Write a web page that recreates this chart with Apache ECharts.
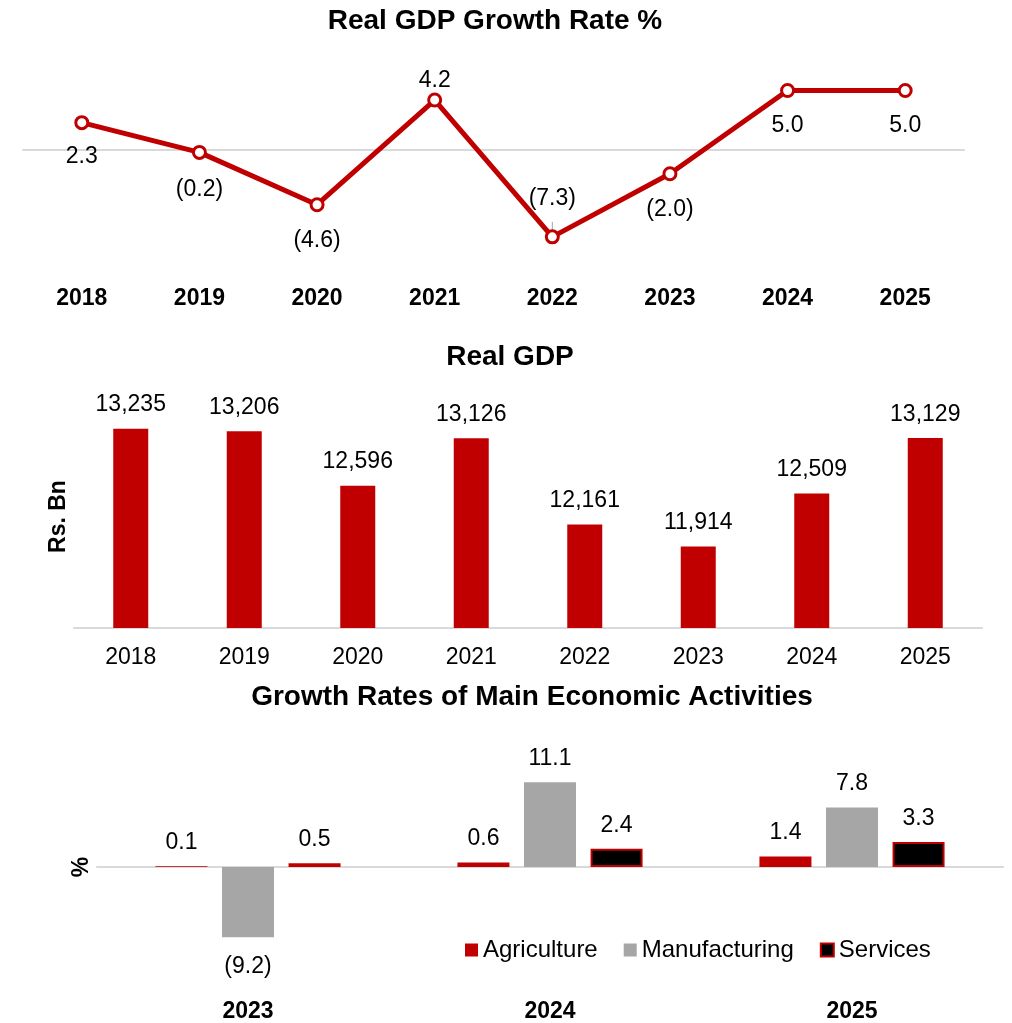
<!DOCTYPE html>
<html>
<head>
<meta charset="utf-8">
<script src="https://cdn.jsdelivr.net/npm/echarts@6/dist/echarts.min.js"></script>
<style>html,body{margin:0;padding:0;background:#fff}#c{width:1012px;height:1023px}</style>
</head>
<body>
<div id="c"></div>
<script>
// ---- data ----
const years = ['2018', '2019', '2020', '2021', '2022', '2023', '2024', '2025'];
const growthRate = [2.3, -0.2, -4.6, 4.2, -7.3, -2.0, 5.0, 5.0];
const realGdp = [13235, 13206, 12596, 13126, 12161, 11914, 12509, 13129];
const activityYears = ['2023', '2024', '2025'];
const agriculture = [0.1, 0.6, 1.4];
const manufacturing = [-9.2, 11.1, 7.8];
const services = [0.5, 2.4, 3.3];

// ---- styles ----
const RED = '#c00000', GREY = '#a6a6a6', LINE = '#d9d9d9';
const FONT = '"Liberation Sans", Arial, sans-serif';
const growthLabelPos = ['bottom', 'bottom', 'bottom', 'top', 'top', 'bottom', 'bottom', 'bottom'];
const growthLabelDist = [15, 18, 17, 0, 19, 17, 16, 16];

function paren(v, d) {
  const s = Math.abs(v).toFixed(d);
  return v < 0 ? '(' + s + ')' : s;
}

const chart = echarts.init(document.getElementById('c'), null, {renderer: 'canvas'});
const lbl = {fontFamily: FONT, fontSize: 23, color: '#000'};

const option = {
  animation: false,
  textStyle: {fontFamily: FONT},
  graphic: [
    {type: 'text', x: 495, y: 21, style: {text: 'Real GDP Growth Rate %', font: 'bold 28px ' + FONT, fill: '#000', textAlign: 'center', textVerticalAlign: 'middle'}},
    {type: 'text', x: 510, y: 357, style: {text: 'Real GDP', font: 'bold 28px ' + FONT, fill: '#000', textAlign: 'center', textVerticalAlign: 'middle'}},
    {type: 'text', x: 532, y: 697, style: {text: 'Growth Rates of Main Economic Activities', font: 'bold 28px ' + FONT, fill: '#000', textAlign: 'center', textVerticalAlign: 'middle'}}
  ],
  legend: {
    data: ['Agriculture', 'Manufacturing', 'Services'],
    left: 460, top: 933,
    icon: 'rect', itemWidth: 13, itemHeight: 13, itemGap: 26,
    textStyle: {fontFamily: FONT, fontSize: 24, color: '#000'}
  },
  grid: [
    {left: 23, width: 941, top: 78.6, height: 166.6},
    {left: 74, width: 908, top: 405, height: 223},
    {left: 97, width: 906, top: 760.2, height: 215.6}
  ],
  xAxis: [
    {gridIndex: 0, type: 'category', data: years, axisLine: {onZero: true, lineStyle: {color: LINE, width: 2}}, axisTick: {show: false}, axisLabel: {show: false}},
    {gridIndex: 0, type: 'category', data: years, position: 'bottom', axisLine: {show: false, onZero: false}, axisTick: {show: false},
      axisLabel: {fontFamily: FONT, fontSize: 23, fontWeight: 'bold', color: '#000', margin: 42}},
    {gridIndex: 1, type: 'category', data: years, axisLine: {lineStyle: {color: LINE, width: 2}}, axisTick: {show: false},
      axisLabel: {fontFamily: FONT, fontSize: 23, color: '#000', margin: 18}},
    {gridIndex: 2, type: 'category', data: activityYears, axisLine: {onZero: true, lineStyle: {color: LINE, width: 2}}, axisTick: {show: false}, axisLabel: {show: false}},
    {gridIndex: 2, type: 'category', data: activityYears, position: 'bottom', axisLine: {show: false, onZero: false}, axisTick: {show: false},
      axisLabel: {fontFamily: FONT, fontSize: 23, fontWeight: 'bold', color: '#000', margin: 26}}
  ],
  yAxis: [
    {gridIndex: 0, type: 'value', min: -8, max: 6, show: false},
    {gridIndex: 1, type: 'value', min: 11000, max: 13500, axisLine: {show: false}, axisTick: {show: false}, axisLabel: {show: false}, splitLine: {show: false},
      name: 'Rs. Bn', nameLocation: 'middle', nameRotate: 90, nameGap: 4, nameTextStyle: {fontFamily: FONT, fontSize: 23, fontWeight: 'bold', color: '#000'}},
    {gridIndex: 2, type: 'value', min: -14, max: 14, axisLine: {show: false}, axisTick: {show: false}, axisLabel: {show: false}, splitLine: {show: false},
      name: '%', nameLocation: 'middle', nameRotate: 90, nameGap: 4, nameTextStyle: {fontFamily: FONT, fontSize: 23, fontWeight: 'bold', color: '#000'}}
  ],
  series: [
    {
      type: 'line', xAxisIndex: 0, yAxisIndex: 0,
      data: growthRate.map((v, i) => ({
        value: v,
        label: {position: growthLabelPos[i], distance: growthLabelDist[i]},
        labelLine: i === 4 ? {show: true} : {show: false}
      })),
      lineStyle: {color: RED, width: 5},
      symbol: 'circle', symbolSize: 12,
      itemStyle: {color: '#fff', borderColor: RED, borderWidth: 3},
      label: Object.assign({show: true, formatter: p => paren(p.value, 1)}, lbl),
      labelLine: {show: false, lineStyle: {color: GREY, width: 1}},
      z: 5
    },
    {
      type: 'bar', xAxisIndex: 2, yAxisIndex: 1,
      data: realGdp, barWidth: 35,
      itemStyle: {color: RED},
      label: Object.assign({show: true, position: 'top', distance: 12, formatter: p => p.value.toLocaleString('en-US')}, lbl)
    },
    {
      name: 'Agriculture', type: 'bar', xAxisIndex: 3, yAxisIndex: 2,
      data: agriculture, barWidth: 52, barGap: '28%',
      itemStyle: {color: RED},
      label: Object.assign({show: true, position: 'top', distance: 12, formatter: p => paren(p.value, 1)}, lbl)
    },
    {
      name: 'Manufacturing', type: 'bar', xAxisIndex: 3, yAxisIndex: 2,
      data: manufacturing.map(v => v < 0 ? {value: v, label: {position: 'bottom', distance: 18}} : v),
      barWidth: 52, barGap: '28%',
      itemStyle: {color: GREY},
      label: Object.assign({show: true, position: 'top', distance: 12, formatter: p => paren(p.value, 1)}, lbl)
    },
    {
      name: 'Services', type: 'bar', xAxisIndex: 3, yAxisIndex: 2,
      data: services, barWidth: 52, barGap: '28%',
      itemStyle: {color: '#000', borderColor: RED, borderWidth: 2},
      label: Object.assign({show: true, position: 'top', distance: 12, formatter: p => paren(p.value, 1)}, lbl)
    }
  ]
};
chart.setOption(option);
</script>
</body>
</html>
